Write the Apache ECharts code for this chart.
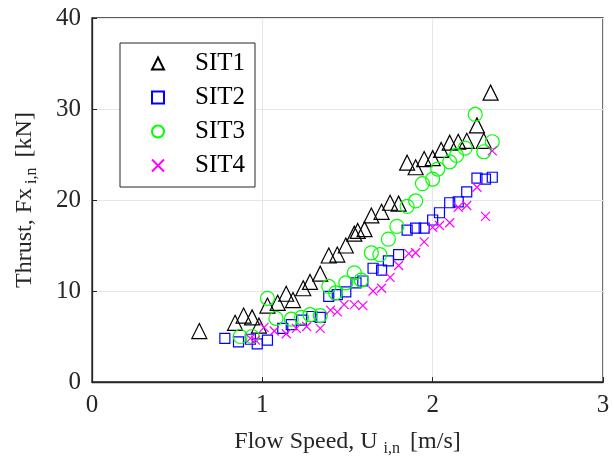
<!DOCTYPE html>
<html>
<head>
<meta charset="utf-8">
<script src="https://cdn.jsdelivr.net/npm/echarts@6/dist/echarts.min.js"></script>
<style>html,body{margin:0;padding:0;background:#fff}#c{width:614px;height:468px}</style>
</head>
<body>
<div id="c"></div>
<script>
const seriesNames = ['SIT1', 'SIT2', 'SIT3', 'SIT4'];
const xTicks = [0, 1, 2, 3];
const yTicks = [0, 10, 20, 30, 40];

const sit1 = [[0.63,5.6],[0.84,6.5],[0.89,7.3],[0.94,7.1],[0.98,6.2],[1.03,8.4],[1.09,8.7],[1.14,9.7],[1.18,9.0],[1.24,10.3],[1.28,11.0],[1.34,11.9],[1.39,13.9],[1.44,14.0],[1.49,15.0],[1.54,16.3],[1.56,16.6],[1.60,16.8],[1.64,18.3],[1.70,18.7],[1.75,19.7],[1.80,19.6],[1.85,24.1],[1.90,23.6],[1.95,24.5],[2.00,24.6],[2.05,25.5],[2.10,26.3],[2.15,26.4],[2.20,26.5],[2.26,28.2],[2.30,26.5],[2.34,31.8]];
const sit2 = [[0.78,4.8],[0.86,4.4],[0.93,4.7],[0.97,4.2],[1.03,4.6],[1.12,5.9],[1.17,6.3],[1.23,6.8],[1.29,7.2],[1.34,7.1],[1.39,9.4],[1.44,9.6],[1.49,9.9],[1.55,10.9],[1.59,11.1],[1.65,12.5],[1.70,12.3],[1.74,13.3],[1.80,14.0],[1.85,16.7],[1.90,16.9],[1.95,16.9],[2.00,17.8],[2.04,18.6],[2.10,19.7],[2.15,19.8],[2.20,20.9],[2.26,22.4],[2.31,22.3],[2.35,22.5]];
const sit3 = [[0.87,5.0],[0.94,5.0],[1.03,9.2],[1.08,7.0],[1.17,6.9],[1.23,7.1],[1.28,7.4],[1.34,7.3],[1.39,10.5],[1.43,9.8],[1.49,10.9],[1.54,12.0],[1.58,11.2],[1.64,14.2],[1.69,14.0],[1.74,15.7],[1.79,17.1],[1.85,19.3],[1.90,19.9],[1.94,21.8],[2.00,22.3],[2.03,23.4],[2.10,24.2],[2.14,24.9],[2.19,25.7],[2.25,29.4],[2.30,25.3],[2.35,26.4]];
const sit4 = [[0.93,4.8],[0.96,4.6],[1.01,6.0],[1.07,5.6],[1.14,5.3],[1.20,5.9],[1.26,6.1],[1.34,5.9],[1.40,7.9],[1.44,7.7],[1.48,8.5],[1.54,8.5],[1.59,8.4],[1.65,10.0],[1.70,10.3],[1.75,11.5],[1.80,12.8],[1.86,14.1],[1.90,14.2],[1.95,15.4],[2.00,17.0],[2.04,17.2],[2.10,17.5],[2.15,19.2],[2.20,19.4],[2.26,21.4],[2.31,18.2],[2.35,25.4]];

const FONT = 'Liberation Serif';
const chart = echarts.init(document.getElementById('c'), null, {renderer: 'canvas'});

function mk(name, data, symbol, size, color, bw) {
  return {
    name: name, type: 'scatter', data: data, symbol: symbol, symbolSize: size,
    itemStyle: {color: 'transparent', borderColor: color, borderWidth: bw, opacity: 1},
    emphasis: {disabled: true}, z: 3
  };
}

chart.setOption({
  animation: false,
  backgroundColor: '#fff',
  grid: {left: 92, right: 11, top: 18, bottom: 86, show: true, borderColor: '#262626', borderWidth: 1.3, backgroundColor: 'transparent'},
  legend: {
    orient: 'vertical', left: 120, top: 43,
    padding: [8, 10, 9, 31],
    itemWidth: 12, itemHeight: 12, itemGap: 9,
    borderColor: '#262626', borderWidth: 1, backgroundColor: '#fff',
    formatter: function (n) { return '{g|}' + n; },
    textStyle: {fontFamily: FONT, fontSize: 25, color: '#000', lineHeight: 25,
      rich: {g: {width: 26}}},
    data: seriesNames
  },
  xAxis: {
    type: 'value', min: xTicks[0], max: xTicks[xTicks.length - 1], interval: 1,
    name: 'Flow Speed, U{sub|i,n} [m/s]', nameLocation: 'middle', nameGap: 45,
    nameTextStyle: {fontFamily: FONT, fontSize: 24, color: '#262626',
      rich: {sub: {fontFamily: FONT, fontSize: 16, color: '#262626', verticalAlign: 'bottom', padding: [14, 4, 0, 6]}}},
    axisLine: {show: true, lineStyle: {color: '#262626', width: 1.3}},
    axisTick: {show: true, inside: true, length: 5, lineStyle: {color: '#262626'}},
    axisLabel: {fontFamily: FONT, fontSize: 25, color: '#262626', margin: 11},
    splitLine: {show: true, lineStyle: {color: '#e6e6e6', width: 1}}
  },
  yAxis: {
    type: 'value', min: yTicks[0], max: yTicks[yTicks.length - 1], interval: 10,
    name: 'Thrust, Fx{sub|i,n} [kN]', nameLocation: 'middle', nameGap: 52, nameRotate: 90,
    nameTextStyle: {fontFamily: FONT, fontSize: 24, color: '#262626',
      rich: {sub: {fontFamily: FONT, fontSize: 16, color: '#262626', verticalAlign: 'bottom', padding: [14, 4, 0, 4]}}},
    axisLine: {show: true, lineStyle: {color: '#262626', width: 1.3}},
    axisTick: {show: true, inside: true, length: 5, lineStyle: {color: '#262626'}},
    axisLabel: {fontFamily: FONT, fontSize: 25, color: '#262626', margin: 11},
    splitLine: {show: true, lineStyle: {color: '#e6e6e6', width: 1}}
  },
  series: [
    mk(seriesNames[0], sit1, 'triangle', 15, '#000000', 1.2),
    mk(seriesNames[1], sit2, 'rect', 10, '#0000ff', 1.2),
    mk(seriesNames[2], sit3, 'circle', 14, '#00ff00', 1.2),
    mk(seriesNames[3], sit4, 'path://M0,0L10,10M10,0L0,10', 9, '#ff00ff', 1.2)
  ]
});
</script>
</body>
</html>
